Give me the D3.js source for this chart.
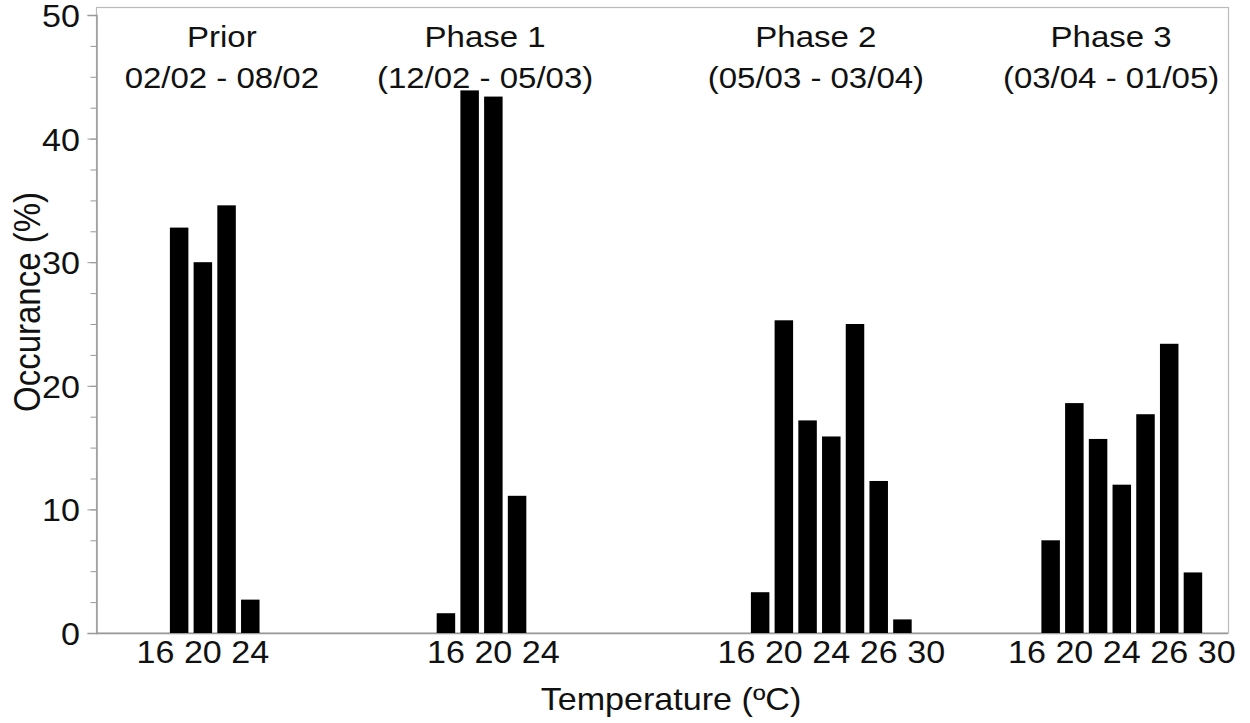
<!DOCTYPE html>
<html>
<head>
<meta charset="utf-8">
<script src="https://cdn.jsdelivr.net/npm/d3@7"></script>
<style>
    body { margin: 0; background: #fff; }
    text { font-family: "Liberation Sans", Arial, Helvetica, sans-serif; fill: #111; }
</style>
</head>
<body>
<div id="chart"></div>
<script>
// data
var phases = ['Prior', 'Phase 1', 'Phase 2', 'Phase 3'];
var periods = ['02/02 - 08/02', '(12/02 - 05/03)', '(05/03 - 03/04)', '(03/04 - 01/05)'];

// bin centres (ºC) and occurance (%) per phase
var tempBins = [
    [18, 20, 22, 24],
    [16, 18, 20, 22],
    [18, 20, 22, 24, 26, 28, 30],
    [18, 20, 22, 24, 26, 28, 30]
];
var occurance = [
    [32.8, 30.0, 34.6, 2.7],
    [1.6, 43.9, 43.4, 11.1],
    [3.3, 25.3, 17.2, 15.9, 25.0, 12.3, 1.1],
    [7.5, 18.6, 15.7, 12.0, 17.7, 23.4, 4.9]
];

// temperature tick labels as printed under each group
var tickTemps = [
    [16, 20, 24],
    [16, 20, 24],
    [16, 20, 24, 28, 32],
    [16, 20, 24, 28, 32]
];
var tickLabels = [
    ['16', '20', '24'],
    ['16', '20', '24'],
    ['16', '20', '24', '26', '30'],
    ['16', '20', '24', '26', '30']
];

var yTicks = [0, 10, 20, 30, 40, 50];

// layout
var W = 1250, H = 723,
    plotLeft = 96, plotRight = 1228, plotBottom = 633, plotTop = 15,
    xStretch = 1.1,
    titleAt = [21.6, 19.3, 22.7, 23.1]; // title centre, in ºC of each group

var svg = d3.select('#chart').append('svg')
    .attr('width', W)
    .attr('height', H);

svg.append('rect').attr('width', W).attr('height', H).attr('fill', '#fff');

var y = d3.scaleLinear().domain([0, 50]).range([plotBottom, plotTop]);

// one band per phase, temperature scale inside each band
var outer = d3.scaleBand().domain(phases).range([108, 108 + 4 * 290.5]).padding(0);
var inner = d3.scaleLinear().domain([12, 36.5]).range([0, outer.bandwidth()]);
var barW = (inner(2) - inner(0)) * 0.78;

function xPos(i, t) { return outer(phases[i]) + inner(t); }

function stretch(x, yy, extra) {
    return 'translate(' + x + ',' + yy + ') scale(' + xStretch + ',1)' + (extra || '');
}

// frame
var frameTop = y(50) - 7.5;
svg.append('rect')
    .attr('x', plotLeft + 0.5)
    .attr('y', frameTop)
    .attr('width', plotRight - plotLeft)
    .attr('height', plotBottom - frameTop)
    .attr('fill', 'none')
    .attr('stroke', '#bbb')
    .attr('stroke-width', 1.2);

// y axis: minor then major ticks
svg.append('g')
    .attr('transform', 'translate(' + (plotLeft + 0.5) + ',0)')
    .call(d3.axisLeft(y).tickValues(d3.range(0, 50.1, 2.5)).tickSize(6).tickFormat(''))
    .call(function(g) {
        g.select('.domain').remove();
        g.selectAll('line').attr('stroke', '#999');
    });

var yAxis = svg.append('g')
    .attr('transform', 'translate(' + (plotLeft + 0.5) + ',0)')
    .call(d3.axisLeft(y).tickValues(yTicks).tickSize(9).tickFormat(d3.format('d')));

yAxis.select('.domain').attr('stroke', '#999').attr('stroke-width', 1.5);
yAxis.selectAll('line').attr('stroke', '#999');
yAxis.selectAll('text')
    .attr('x', null)
    .attr('dy', '0.37em')
    .attr('transform', stretch(-16.5, 0))
    .style('font-size', '31px')
    .style('font-family', '"Liberation Sans", Arial, sans-serif')
    .style('fill', '#111');

// x axis line
svg.append('line')
    .attr('x1', plotLeft).attr('x2', plotRight)
    .attr('y1', plotBottom + 0.5).attr('y2', plotBottom + 0.5)
    .attr('stroke', '#999')
    .attr('stroke-width', 1.5);

// groups
var groups = svg.selectAll('g.phase')
    .data(phases)
    .enter().append('g')
    .attr('class', 'phase');

groups.selectAll('rect.bar')
    .data(function(d, i) {
        return tempBins[i].map(function(t, j) { return {g: i, t: t, v: occurance[i][j]}; });
    })
    .enter().append('rect')
    .attr('class', 'bar')
    .attr('x', function(d) { return xPos(d.g, d.t) - barW / 2; })
    .attr('y', function(d) { return y(d.v); })
    .attr('width', barW)
    .attr('height', function(d) { return y(0) - y(d.v); })
    .attr('fill', '#000');

groups.selectAll('text.tick')
    .data(function(d, i) {
        return tickTemps[i].map(function(t, j) { return {g: i, t: t, label: tickLabels[i][j]}; });
    })
    .enter().append('text')
    .attr('class', 'tick')
    .attr('text-anchor', 'middle')
    .attr('transform', function(d) { return stretch(xPos(d.g, d.t), 663); })
    .style('font-size', '31px')
    .text(function(d) { return d.label; });

groups.append('text')
    .attr('text-anchor', 'middle')
    .attr('transform', function(d, i) { return stretch(xPos(i, titleAt[i]), 47); })
    .style('font-size', '30px')
    .text(function(d) { return d; });

groups.append('text')
    .attr('text-anchor', 'middle')
    .attr('transform', function(d, i) { return stretch(xPos(i, titleAt[i]), 88); })
    .style('font-size', '30px')
    .text(function(d, i) { return periods[i]; });

// axis titles
svg.append('text')
    .attr('text-anchor', 'middle')
    .attr('transform', stretch(671, 710))
    .style('font-size', '31px')
    .text('Temperature (ºC)');

svg.append('text')
    .attr('text-anchor', 'middle')
    .attr('transform', stretch(40, 302, ' rotate(-90)'))
    .style('font-size', '33px')
    .text('Occurance (%)');
</script>
</body>
</html>
